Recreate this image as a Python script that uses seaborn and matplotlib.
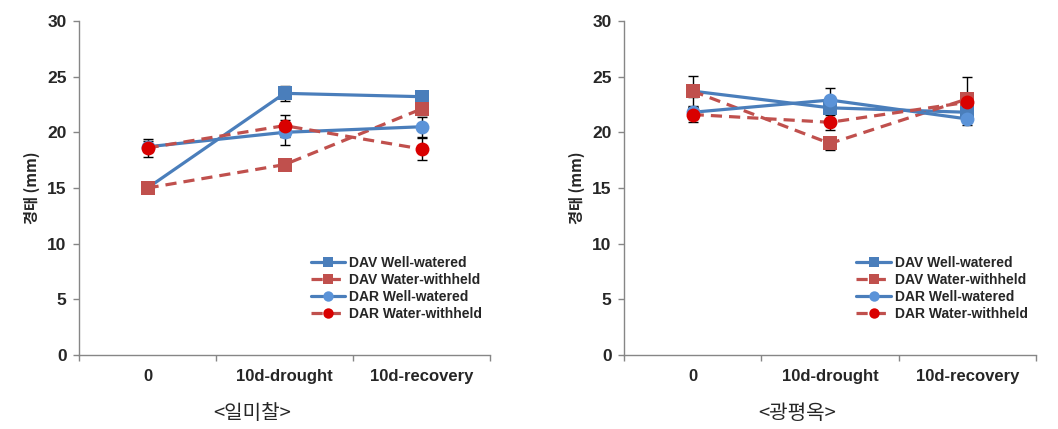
import matplotlib
matplotlib.use("Agg")
import matplotlib.pyplot as plt
import seaborn as sns
import numpy as np
import pandas as pd
from matplotlib.lines import Line2D

sns.set_theme(style="white")
plt.rcParams['font.family'] = ['Liberation Sans', 'Noto Sans CJK KR', 'DejaVu Sans']

categories = ["0", "10d-drought", "10d-recovery"]
series_names = ["DAV Well-watered", "DAV Water-withheld", "DAR Well-watered", "DAR Water-withheld"]
panel_titles = ["<일미찰>", "<광평옥>"]
y_label = "경태 (mm)"

# Panel 1: 일미찰
p1_dav_ww = [15.0, 23.5, 23.2]
p1_dav_wh = [15.0, 17.1, 22.1]
p1_dar_ww = [18.7, 20.0, 20.5]
p1_dar_wh = [18.6, 20.6, 18.5]
p1_dav_ww_err = [0.3, 0.7, 0.3]
p1_dav_wh_err = [0.3, 0.3, 0.5]
p1_dar_ww_err = [0.5, 1.1, 0.9]
p1_dar_wh_err = [0.8, 1.0, 1.0]

# Panel 2: 광평옥
p2_dav_ww = [23.7, 22.2, 21.8]
p2_dav_wh = [23.7, 19.0, 23.0]
p2_dar_ww = [21.8, 22.9, 21.2]
p2_dar_wh = [21.6, 20.9, 22.7]
p2_dav_ww_err = [0.5, 0.5, 0.5]
p2_dav_wh_err = [1.4, 0.6, 2.0]
p2_dar_ww_err = [0.6, 1.1, 0.5]
p2_dar_wh_err = [0.7, 0.7, 0.6]

panels = [
    ([p1_dav_ww, p1_dav_wh, p1_dar_ww, p1_dar_wh],
     [p1_dav_ww_err, p1_dav_wh_err, p1_dar_ww_err, p1_dar_wh_err]),
    ([p2_dav_ww, p2_dav_wh, p2_dar_ww, p2_dar_wh],
     [p2_dav_ww_err, p2_dav_wh_err, p2_dar_ww_err, p2_dar_wh_err]),
]

styles = [
    dict(color="#4A7EBB", mfc="#4A7EBB", marker="s", ls="-"),
    dict(color="#C0504D", mfc="#C0504D", marker="s", ls=(0, (3.5, 2.2))),
    dict(color="#4A7EBB", mfc="#5B93D8", marker="o", ls="-"),
    dict(color="#C0504D", mfc="#D90000", marker="o", ls=(0, (3.5, 2.2))),
]

fig = plt.figure(figsize=(10.58, 4.29), dpi=100)
axes = [fig.add_axes([0.0747, 0.1725, 0.3885, 0.7786]),
        fig.add_axes([0.5898, 0.1725, 0.3894, 0.7786])]

xpos = np.arange(len(categories))
for ax, (vals, errs), title in zip(axes, panels, panel_titles):
    for name, v, e, st in zip(series_names, vals, errs, styles):
        ax.errorbar(xpos, v, yerr=e, fmt="none", ecolor="black", elinewidth=1.0,
                    capsize=3.5, capthick=1.0, zorder=1)
    for name, v, e, st in zip(series_names, vals, errs, styles):
        df = pd.DataFrame({"x": xpos, "y": v})
        sns.lineplot(data=df, x="x", y="y", ax=ax, color=st["color"], linewidth=2.3,
                     marker=st["marker"], markersize=10, markerfacecolor=st["mfc"],
                     markeredgecolor=st["mfc"], markeredgewidth=0, zorder=3)
        ax.lines[-1].set_linestyle(st["ls"])
    ax.set_xlim(-0.5, 2.5)
    ax.set_ylim(0, 30)
    ax.set_yticks([0, 5, 10, 15, 20, 25, 30])
    ax.set_xticks(xpos)
    ax.set_xticklabels(categories, fontsize=12, fontweight="bold")
    ax.set_xticks([-0.5, 0.5, 1.5, 2.5], minor=True)
    ax.tick_params(axis="x", which="major", length=0, pad=10)
    ax.tick_params(axis="x", which="minor", length=4, width=1, color="#868686", direction="out", bottom=True)
    ax.tick_params(axis="y", length=4, width=1, color="#868686", direction="out", left=True, pad=5)
    for lab in ax.get_yticklabels():
        lab.set_fontweight("bold")
        lab.set_fontsize(12.5)
    for s in ["top", "right"]:
        ax.spines[s].set_visible(False)
    for s in ["left", "bottom"]:
        ax.spines[s].set_color("#868686")
        ax.spines[s].set_linewidth(1.0)
    ax.set_xlabel("")
    ax.set_ylabel(y_label, fontsize=11, fontweight="bold",
                  family=["Noto Sans CJK KR", "Liberation Sans"], labelpad=5)
    ax.grid(False)

    handles = [Line2D([0], [0], color=st["color"], lw=2.3, ls=st["ls"], marker=st["marker"],
                      markersize=7.5, markerfacecolor=st["mfc"], markeredgewidth=0)
               for st in styles]
    leg = ax.legend(handles, series_names, loc="lower right", bbox_to_anchor=(0.995, 0.085),
                    frameon=False, handlelength=2.5, handletextpad=0.3, labelspacing=0.22,
                    borderaxespad=0, prop=dict(family="Liberation Sans", weight="bold", size=10))

    bbox = ax.get_position()
    fig.text(bbox.x0 + bbox.width * 0.42, 0.035, title, ha="center", va="center",
             fontsize=14.5, family=["Noto Sans CJK KR", "DejaVu Sans"])

fig.savefig("out.png", dpi=100)
